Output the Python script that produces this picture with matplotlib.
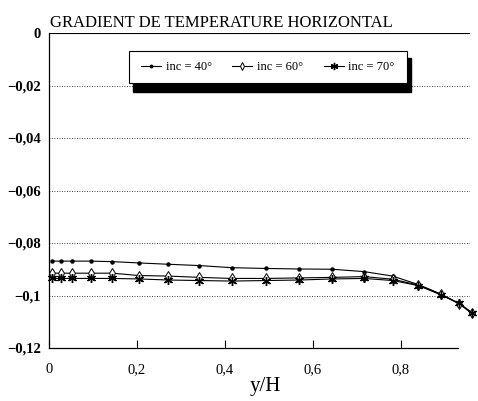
import numpy as np
import matplotlib
matplotlib.use('Agg')
import matplotlib.pyplot as plt
from matplotlib.patches import Rectangle

plt.rcParams['font.family'] = ['Liberation Serif', 'DejaVu Serif']

# y/H positions of the computed points
y_h = [0.0075, 0.027, 0.053, 0.095, 0.144, 0.205, 0.271, 0.342, 0.415,
       0.493, 0.569, 0.644, 0.716, 0.781, 0.839, 0.890, 0.932, 0.961]

grad_40 = [-0.0869, -0.0869, -0.0869, -0.0869, -0.0871, -0.0876, -0.0881, -0.0886, -0.0894,
           -0.0897, -0.0899, -0.0900, -0.0909, -0.0926, -0.0958, -0.0994, -0.1030, -0.1065]
grad_60 = [-0.0915, -0.0915, -0.0915, -0.0915, -0.0915, -0.0924, -0.0926, -0.0931, -0.0935,
           -0.0935, -0.0933, -0.0931, -0.0928, -0.0938, -0.0960, -0.0995, -0.1032, -0.1068]
grad_70 = [-0.0935, -0.0935, -0.0935, -0.0935, -0.0935, -0.0937, -0.0941, -0.0943, -0.0945,
           -0.0943, -0.0941, -0.0937, -0.0935, -0.0943, -0.0962, -0.0997, -0.1030, -0.1065]

labels = ["inc = 40°", "inc = 60°", "inc = 70°"]

xticks = [0, 0.2, 0.4, 0.6, 0.8]
xtick_labels = ["0", "0,2", "0,4", "0,6", "0,8"]
yticks = [0, -0.02, -0.04, -0.06, -0.08, -0.1, -0.12]
ytick_labels = ["0", "\u22120,02", "\u22120,04", "\u22120,06", "\u22120,08", "\u22120,1", "\u22120,12"]

W, H = 478, 401
fig = plt.figure(figsize=(W / 100, H / 100), dpi=100)
ax = fig.add_axes([49 / W, (H - 348) / H, 421 / W, 315 / H])

ax.plot(y_h, grad_40, color='k', lw=0.8, marker='o', ms=2.2, label=labels[0],
        clip_on=False)
ax.plot(y_h, grad_60, color='k', lw=0.8, marker='d', ms=5, mfc='white', mew=0.7,
        label=labels[1], clip_on=False)
ax.plot(y_h, grad_70, color='k', lw=0.8, marker=(6, 2, 0), ms=6.5, mew=1.0,
        label=labels[2], clip_on=False)

ax.set_xlim(0, 421 / 440)
ax.set_ylim(-0.12, 0)
ax.set_xticks(xticks)
ax.set_xticklabels(xtick_labels, fontsize=10.5)
ax.set_yticks(yticks)
ax.set_yticklabels(ytick_labels, fontsize=10.5, fontweight='bold')
ax.tick_params(axis='x', direction='in', length=6, width=0.8, pad=11)
ax.tick_params(axis='y', length=0, pad=6)

for yv in yticks[1:-1]:
    ax.axhline(yv, color='k', lw=0.6, ls=(0, (1, 2)), zorder=0)
ax.axhline(0, color='k', lw=0.8, zorder=0)

ax.spines['top'].set_visible(False)
ax.spines['right'].set_visible(False)
ax.spines['bottom'].set_bounds(0, 0.93)
for s in ['left', 'bottom']:
    ax.spines[s].set_linewidth(0.9)

ax.set_xlabel("y/H", fontsize=15, labelpad=0)
ax.xaxis.set_label_coords((265 - 49) / 421, -(377 - 348) / 315)

fig.text(50 / W, 1 - 27 / H, "GRADIENT DE TEMPERATURE HORIZONTAL", fontsize=12,
         ha='left', va='baseline')

# legend box with a black drop shadow
fig.patches.append(Rectangle((133 / W, 1 - 92 / H), 278 / W, 34 / H,
                             transform=fig.transFigure, color='k', zorder=5))
fig.patches.append(Rectangle((129 / W, 1 - 83 / H), 278 / W, 32 / H,
                             transform=fig.transFigure, facecolor='white',
                             edgecolor='k', lw=0.8, zorder=6))
leg = fig.legend(loc='center', bbox_to_anchor=(268 / W, 1 - 67 / H), ncol=3,
                 frameon=False, fontsize=9, handlelength=1.6, handletextpad=0.4,
                 columnspacing=1.6, markerscale=0.8)
leg.set_zorder(7)

fig.savefig('out.png', dpi=100)
